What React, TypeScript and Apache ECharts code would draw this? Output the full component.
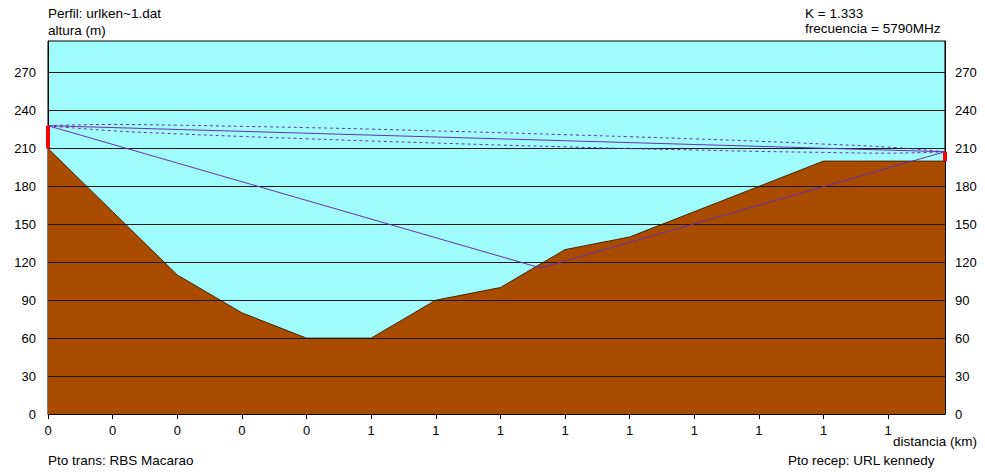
import React, { useEffect, useRef } from "react";
import * as echarts from "echarts";

// distance along path (km) and terrain height (m)
const distances = [0, 0.1, 0.2, 0.3, 0.4, 0.5, 0.6, 0.7, 0.8, 0.9, 1.0, 1.1, 1.2, 1.3, 1.388];
const terrain = [210, 160, 110, 80, 60, 60, 90, 100, 130, 140, 160, 180, 200, 200, 200];
// first Fresnel zone limits (m)
const fresnelUpper = [228.0, 229.0, 228.4, 227.5, 226.5, 225.3, 223.9, 222.5, 220.9, 219.3, 217.6, 215.7, 213.5, 211.1, 207.4];
const fresnelLower = [228.0, 224.0, 221.6, 219.5, 217.7, 215.9, 214.3, 212.7, 211.3, 209.9, 208.8, 207.7, 206.9, 206.3, 207.4];
// antennas: [distance, ground, top]
const txAntenna = [0, 210, 228];
const rxAntenna = [1.388, 200, 207.4];
// reflection point [distance, height]
const reflectionPoint = [0.762, 115.5];
// horizontal reference lines (m)
const gridLevels = [30, 60, 90, 120, 150, 180, 210, 240, 270];
const yMax = 295;
const xMax = 1.388;

const FONT = "Liberation Sans, Arial, sans-serif";

export default function App() {
  const ref = useRef<HTMLDivElement>(null);
  useEffect(() => {
    if (!ref.current) return;
    const chart = echarts.init(ref.current, undefined, { renderer: "svg" });
    const purple = "#6a2fb0";
    const textStyle = { fontFamily: FONT, fontSize: 13.5, fill: "#000" };
    chart.setOption({
      animation: false,
      textStyle: { fontFamily: FONT },
      grid: {
        left: 48,
        right: 40,
        top: 41,
        bottom: 58,
        show: true,
        backgroundColor: "#a0fcfc",
        borderColor: "#000",
        borderWidth: 1,
      },
      xAxis: {
        type: "value",
        min: 0,
        max: xMax,
        interval: 0.1,
        axisLine: { show: true, lineStyle: { color: "#000" } },
        axisTick: { show: true, length: 5, lineStyle: { color: "#000" } },
        axisLabel: {
          color: "#000",
          fontSize: 13,
          fontFamily: FONT,
          margin: 10,
          showMaxLabel: false,
          formatter: (v: number) => String(Math.round(v)),
        },
        splitLine: { show: false },
      },
      yAxis: [
        {
          type: "value",
          min: 0,
          max: yMax,
          interval: 30,
          position: "left",
          axisLine: { show: true, lineStyle: { color: "#000" } },
          axisTick: { show: false },
          axisLabel: { color: "#000", fontSize: 13, fontFamily: FONT, margin: 12, showMaxLabel: false },
          splitLine: { show: false },
        },
        {
          type: "value",
          min: 0,
          max: yMax,
          interval: 30,
          position: "right",
          axisLine: { show: true, lineStyle: { color: "#000" } },
          axisTick: { show: false },
          axisLabel: { color: "#000", fontSize: 13, fontFamily: FONT, margin: 10, showMaxLabel: false },
          splitLine: { show: false },
        },
      ],
      series: [
        {
          type: "line",
          name: "terreno",
          data: distances.map((d, i) => [d, terrain[i]]),
          symbol: "none",
          lineStyle: { color: "#4a2200", width: 1 },
          areaStyle: { color: "#aa4c00", opacity: 1 },
          z: 2,
          markLine: {
            silent: true,
            symbol: "none",
            label: { show: false },
            lineStyle: { color: "#1a1a1a", width: 1, type: "solid" },
            data: gridLevels.map((v) => ({ yAxis: v })),
            z: 3,
          },
        },
        {
          type: "line",
          name: "fresnel sup",
          data: distances.map((d, i) => [d, fresnelUpper[i]]),
          symbol: "none",
          smooth: true,
          lineStyle: { color: purple, width: 1, type: [3, 3] },
          z: 6,
        },
        {
          type: "line",
          name: "fresnel inf",
          data: distances.map((d, i) => [d, fresnelLower[i]]),
          symbol: "none",
          smooth: true,
          lineStyle: { color: purple, width: 1, type: [3, 3] },
          z: 6,
        },
        {
          type: "line",
          name: "visual",
          data: [
            [txAntenna[0], txAntenna[2]],
            [rxAntenna[0], rxAntenna[2]],
          ],
          symbol: "none",
          lineStyle: { color: purple, width: 1 },
          z: 7,
        },
        {
          type: "line",
          name: "reflexion",
          data: [
            [txAntenna[0], txAntenna[2]],
            [reflectionPoint[0], reflectionPoint[1]],
            [rxAntenna[0], rxAntenna[2]],
          ],
          symbol: "none",
          lineStyle: { color: purple, width: 1 },
          z: 7,
        },
        {
          type: "line",
          name: "antena tx",
          data: [
            [txAntenna[0], txAntenna[1]],
            [txAntenna[0], txAntenna[2]],
          ],
          symbol: "none",
          lineStyle: { color: "#ff0000", width: 4 },
          z: 8,
        },
        {
          type: "line",
          name: "antena rx",
          data: [
            [rxAntenna[0], rxAntenna[1]],
            [rxAntenna[0], rxAntenna[2]],
          ],
          symbol: "none",
          lineStyle: { color: "#ff0000", width: 4 },
          z: 8,
        },
      ],
      graphic: [
        { type: "text", left: 48, top: 6, style: { ...textStyle, text: "Perfil: urlken~1.dat" } },
        { type: "text", left: 48, top: 23, style: { ...textStyle, text: "altura (m)" } },
        { type: "text", left: 805, top: 6, style: { ...textStyle, text: "K = 1.333" } },
        { type: "text", left: 805, top: 21, style: { ...textStyle, text: "frecuencia = 5790MHz" } },
        { type: "text", left: 893, top: 434, style: { ...textStyle, text: "distancia (km)" } },
        { type: "text", left: 48, top: 453, style: { ...textStyle, text: "Pto trans: RBS Macarao" } },
        { type: "text", left: 788, top: 453, style: { ...textStyle, text: "Pto recep: URL kennedy" } },
      ],
    });
    return () => chart.dispose();
  }, []);
  return <div ref={ref} style={{ width: 985, height: 472, position: "absolute", left: 0, top: 0 }} />;
}
